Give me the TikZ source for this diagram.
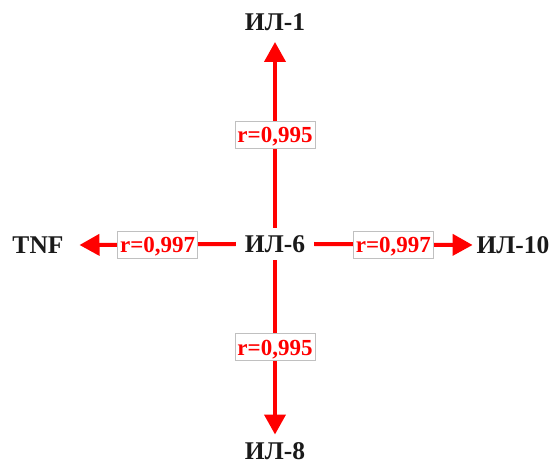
\documentclass[tikz,border=0pt]{standalone}
\usepackage{fontspec}
\setmainfont{Liberation Serif}
\usetikzlibrary{arrows.meta}
\definecolor{ink}{HTML}{1A1A1A}
\definecolor{rd}{HTML}{FF0000}
\definecolor{bx}{HTML}{C0C0C0}
\tikzset{
  main/.style={font=\fontsize{25.5}{29}\selectfont\bfseries, text=ink, inner sep=0pt, text height=17pt, text depth=0pt},
  lbl/.style={font=\fontsize{23}{27}\selectfont\bfseries, text=rd, fill=white, draw=bx, line width=0.8pt, inner xsep=2.5pt, minimum height=27pt, text height=16pt, text depth=0pt},
  arr/.style={draw=rd, line width=4pt, -{Triangle[length=20pt,width=21pt]}}
}
\begin{document}
\begin{tikzpicture}[x=1pt,y=-1pt]
\useasboundingbox (0,0) rectangle (552,465);
\node[main, minimum width=78pt, minimum height=32pt] (il6) at (275,244) {ИЛ-6};
\node[main, outer sep=11.5pt] (il1) at (275,22) {ИЛ-1};
\node[main, outer sep=8pt] (il8) at (275,451) {ИЛ-8};
\node[main, outer sep=16pt] (tnf) at (38,245) {TNF};
\node[main, outer sep=4pt] (il10) at (513,245) {ИЛ-10};
\draw[arr] (il6.north) -- node[lbl]{r=0,995} (il1.south);
\draw[arr] (il6.south) -- node[lbl]{r=0,995} (il8.north);
\draw[arr] (il6.west) -- node[lbl]{r=0,997} (tnf.east);
\draw[arr] (il6.east) -- node[lbl]{r=0,997} (il10.west);
\end{tikzpicture}
\end{document}
